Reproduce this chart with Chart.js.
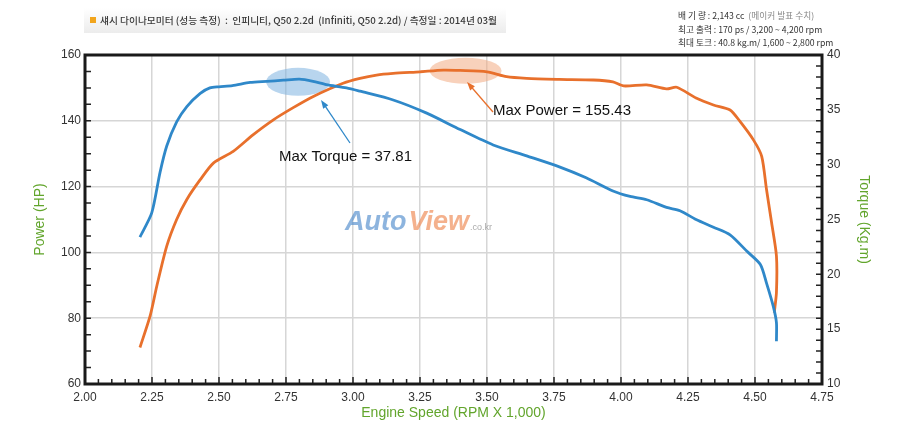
<!DOCTYPE html>
<html>
<head>
<meta charset="utf-8">
<script src="https://cdn.jsdelivr.net/npm/chart.js@4"></script>
<style>
  html, body { margin: 0; padding: 0; background: #fff; }
  #wrap { width: 900px; height: 436px; position: relative; }
</style>
</head>
<body>
<div id="wrap"><canvas id="dynoChart"></canvas></div>
<script>
// Engine speed (x 1,000 rpm) and readings
const torqueRpm = [2.205, 2.249, 2.28, 2.305, 2.342, 2.38, 2.43, 2.466, 2.50, 2.55, 2.616, 2.678, 2.74, 2.80, 2.851,
    2.90, 2.976, 3.026, 3.15, 3.275, 3.40, 3.523, 3.648, 3.77, 3.87, 3.97, 4.034, 4.096, 4.17, 4.22, 4.28,
    4.345, 4.407, 4.47, 4.52, 4.543, 4.568, 4.58, 4.58];
const torqueKgm = [23.4, 25.6, 29.3, 31.7, 33.9, 35.3, 36.5, 37.0, 37.1, 37.2, 37.5, 37.6, 37.7, 37.8, 37.6,
    37.3, 37.0, 36.7, 35.9, 34.7, 33.2, 31.8, 30.8, 29.8, 28.8, 27.6, 27.1, 26.8, 26.1, 25.8, 25.0,
    24.3, 23.6, 22.1, 20.9, 19.2, 17.1, 15.6, 13.9];

const powerRpm = [2.205, 2.243, 2.268, 2.305, 2.342, 2.38, 2.43, 2.48, 2.553, 2.628, 2.703, 2.777, 2.852, 2.963,
    3.026, 3.088, 3.15, 3.25, 3.337, 3.40, 3.50, 3.573, 3.648, 3.77, 3.897, 3.97, 4.01, 4.096, 4.17, 4.208,
    4.28, 4.345, 4.407, 4.444, 4.494, 4.525, 4.543, 4.562, 4.58, 4.58, 4.572];
const powerHp = [71.1, 80.7, 89.8, 101.9, 110, 116.1, 122.1, 127.2, 130.7, 135.8, 140.3, 144.0, 147.4, 151.4,
    152.9, 153.9, 154.4, 154.9, 155.4, 155.3, 154.9, 153.4, 152.9, 152.6, 152.4, 151.8, 150.6, 150.9, 149.7, 150.2,
    146.9, 144.8, 143.3, 139.8, 134.2, 129.2, 119.1, 109, 98.9, 87.8, 81.7];

// peak markers (rpm, value)
const maxTorque = { rpm: 2.795, value: 37.55, label: 'Max Torque = 37.81' };
const maxPower = { rpm: 3.42, value: 155.2, label: 'Max Power = 155.43' };

const headerText = '섀시 다이나모미터 (성능 측정)  :  인피니티, Q50 2.2d  (Infiniti, Q50 2.2d) / 측정일 : 2014년 03월';
const specLines = [
    ['배 기 량 : 2,143 cc  ', '(메이커 발표 수치)'],
    ['최고 출력 : 170 ps / 3,200 ~ 4,200 rpm', ''],
    ['최대 토크 : 40.8 kg.m/ 1,600 ~ 2,800 rpm', '']
];

const BLUE = '#2f88c9';
const ORANGE = '#e8702c';
const GREEN = '#62a52c';
const tickFont = { family: "'Liberation Sans Narrow', 'Liberation Sans', Arial", size: 12 };
const titleFont = { family: "'Liberation Sans Narrow', 'Liberation Sans', Arial", size: 14 };

const toPoints = (xs, ys) => xs.map((x, i) => ({ x: x, y: ys[i] }));

function arrow(ctx, x1, y1, x2, y2, color) {
    const a = Math.atan2(y2 - y1, x2 - x1);
    ctx.strokeStyle = color;
    ctx.fillStyle = color;
    ctx.lineWidth = 1.3;
    ctx.beginPath();
    ctx.moveTo(x1, y1);
    ctx.lineTo(x2 - 6 * Math.cos(a), y2 - 6 * Math.sin(a));
    ctx.stroke();
    ctx.beginPath();
    ctx.moveTo(x2, y2);
    ctx.lineTo(x2 - 9 * Math.cos(a - 0.35), y2 - 9 * Math.sin(a - 0.35));
    ctx.lineTo(x2 - 9 * Math.cos(a + 0.35), y2 - 9 * Math.sin(a + 0.35));
    ctx.closePath();
    ctx.fill();
}

const dynoDecor = {
    id: 'dynoDecor',
    beforeDraw(chart) {
        const ctx = chart.ctx;
        ctx.save();
        // header band
        const g = ctx.createLinearGradient(0, 8, 0, 33);
        g.addColorStop(0, '#ffffff');
        g.addColorStop(1, '#ececec');
        ctx.fillStyle = g;
        ctx.fillRect(84, 8, 422, 25);
        ctx.fillStyle = '#f2a51c';
        ctx.fillRect(90, 17, 6, 6);
        ctx.fillStyle = '#3a3a3a';
        ctx.font = "500 9.5px 'Noto Sans CJK KR'";
        ctx.textBaseline = 'middle';
        const w = ctx.measureText(headerText).width;
        ctx.save();
        ctx.translate(100, 20);
        ctx.scale(397 / w, 1);
        ctx.fillText(headerText, 0, 0);
        ctx.restore();

        // spec block, top right
        ctx.font = "8.7px 'Noto Sans CJK KR'";
        specLines.forEach((ln, i) => {
            const y = 16 + i * 13.5;
            ctx.fillStyle = '#333';
            ctx.fillText(ln[0], 678, y);
            if (ln[1]) {
                ctx.fillStyle = '#888';
                ctx.fillText(ln[1], 678 + ctx.measureText(ln[0]).width, y);
            }
        });
        ctx.restore();
    },
    beforeDatasetsDraw(chart) {
        const ctx = chart.ctx;
        const { x, y, y1 } = chart.scales;
        ctx.save();
        // watermark
        ctx.font = "italic 900 27px 'Liberation Sans', Arial";
        ctx.textBaseline = 'alphabetic';
        ctx.fillStyle = 'rgba(80,140,205,0.65)';
        ctx.fillText('Auto', 345, 230);
        let wx = 345 + ctx.measureText('Auto').width + 2;
        ctx.fillStyle = 'rgba(238,135,80,0.65)';
        ctx.fillText('View', wx, 230);
        wx += ctx.measureText('View').width + 1;
        ctx.font = "9px 'Liberation Sans', Arial";
        ctx.fillStyle = '#aaa';
        ctx.fillText('.co.kr', wx, 230);

        // highlight ellipses at the peaks
        ctx.fillStyle = 'rgba(125,178,224,0.55)';
        ctx.beginPath();
        ctx.ellipse(x.getPixelForValue(maxTorque.rpm), y1.getPixelForValue(maxTorque.value), 32, 14, 0, 0, Math.PI * 2);
        ctx.fill();
        ctx.fillStyle = 'rgba(242,172,132,0.55)';
        ctx.beginPath();
        ctx.ellipse(x.getPixelForValue(maxPower.rpm), y.getPixelForValue(maxPower.value), 36, 13, 0, 0, Math.PI * 2);
        ctx.fill();
        ctx.restore();
    },
    afterDraw(chart) {
        const ctx = chart.ctx;
        const { left, right, top, bottom } = chart.chartArea;
        const { x, y, y1 } = chart.scales;
        ctx.save();
        // inward tick marks
        ctx.strokeStyle = '#222';
        ctx.lineWidth = 1.5;
        ctx.beginPath();
        for (let v = 60; v <= 160; v += 5) {
            const py = y.getPixelForValue(v);
            ctx.moveTo(left, py);
            ctx.lineTo(left + 6, py);
        }
        for (let v = 10; v <= 40; v += 1) {
            const py = y1.getPixelForValue(v);
            ctx.moveTo(right, py);
            ctx.lineTo(right - 6, py);
        }
        for (let k = 0; k <= 55; k++) {
            const px = x.getPixelForValue(2 + k * 0.05);
            ctx.moveTo(px, bottom);
            ctx.lineTo(px, bottom - (k % 5 === 0 ? 7 : 5));
        }
        ctx.stroke();
        // frame
        ctx.strokeStyle = '#1a1a1a';
        ctx.lineWidth = 3;
        ctx.strokeRect(left, top, right - left, bottom - top);

        // callouts
        arrow(ctx, 350, 143, 321, 100, BLUE);
        arrow(ctx, 493, 112, 467, 82, ORANGE);
        ctx.fillStyle = '#111';
        ctx.font = "15px 'Liberation Sans', Arial";
        ctx.textBaseline = 'middle';
        ctx.fillText(maxTorque.label, 279, 157);
        ctx.fillText(maxPower.label, 493, 111);
        ctx.restore();
    }
};

new Chart(document.getElementById('dynoChart'), {
    type: 'line',
    data: {
        datasets: [{
            label: 'Torque',
            data: toPoints(torqueRpm, torqueKgm),
            yAxisID: 'y1',
            borderColor: BLUE,
            borderWidth: 2.8,
            pointRadius: 0,
            tension: 0.25
        }, {
            label: 'Power',
            data: toPoints(powerRpm, powerHp),
            yAxisID: 'y',
            borderColor: ORANGE,
            borderWidth: 2.8,
            pointRadius: 0,
            tension: 0.25
        }]
    },
    options: {
        responsive: true,
        maintainAspectRatio: false,
        animation: false,
        layout: { padding: { top: 55, left: 0, right: 0, bottom: 0 } },
        plugins: {
            legend: { display: false },
            tooltip: { enabled: false }
        },
        scales: {
            x: {
                type: 'linear',
                min: 2,
                max: 4.75,
                afterFit: (s) => { s.height = 52; },
                border: { display: false },
                grid: { color: '#d6d6d6', lineWidth: 1.5, drawTicks: false },
                ticks: {
                    stepSize: 0.25,
                    padding: 6,
                    color: '#333',
                    font: tickFont,
                    maxRotation: 0,
                    callback: (v) => v.toFixed(2)
                },
                title: {
                    display: true,
                    text: 'Engine Speed (RPM X 1,000)',
                    color: GREEN,
                    font: titleFont,
                    padding: { top: 0, bottom: 14 }
                }
            },
            y: {
                position: 'left',
                min: 60,
                max: 160,
                afterFit: (s) => { s.width = 85; },
                border: { display: false },
                grid: { color: '#d6d6d6', lineWidth: 1.5, drawTicks: false },
                ticks: { stepSize: 20, padding: 4, color: '#333', font: tickFont },
                title: {
                    display: true,
                    text: 'Power (HP)',
                    color: GREEN,
                    font: titleFont,
                    padding: { top: 32, bottom: 0 }
                }
            },
            y1: {
                position: 'right',
                min: 10,
                max: 40,
                afterFit: (s) => { s.width = 78; },
                border: { display: false },
                grid: { display: false, drawTicks: false },
                ticks: { stepSize: 5, padding: 5, color: '#333', font: tickFont },
                title: {
                    display: true,
                    text: 'Torque (Kg.m)',
                    color: GREEN,
                    font: titleFont,
                    padding: { top: 28, bottom: 0 }
                }
            }
        }
    },
    plugins: [dynoDecor]
});
</script>
</body>
</html>
